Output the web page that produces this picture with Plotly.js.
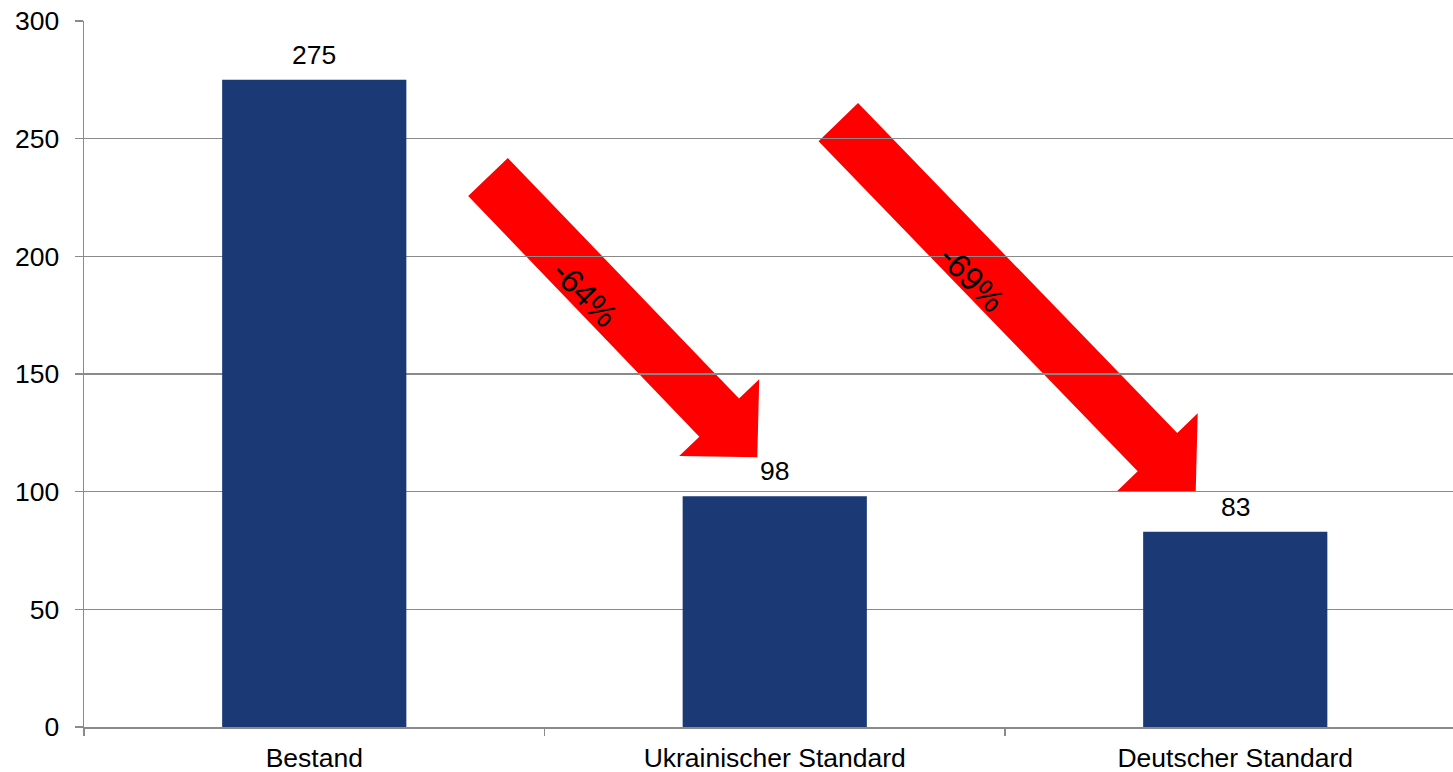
<!DOCTYPE html>
<html>
<head>
<meta charset="utf-8">
<script src="https://cdn.plot.ly/plotly-3.0.1.min.js"></script>
<style>
  html, body { margin: 0; padding: 0; background: #ffffff; }
  #chart { width: 1453px; height: 772px; }
</style>
</head>
<body>
<div id="chart"></div>
<script>
// ---- data ----
const categories = ["Bestand", "Ukrainischer Standard", "Deutscher Standard"];
const values = [275, 98, 83];
const changeLabels = ["-64%", "-69%"];
const yTickVals = [0, 50, 100, 150, 200, 250, 300];

// ---- layout constants ----
const W = 1453, H = 772;
const M = { l: 84, r: 0, t: 21, b: 45 };
const plotW = W - M.l - M.r;
const plotH = H - M.t - M.b;
const catWidthPx = 460.5;
const xMax = plotW / catWidthPx - 0.5;

const FONT = "Arial, 'Liberation Sans', sans-serif";
const FS = 26.5;
const GRAY = "#8a8a8a";

// pixel -> paper helpers for decorative block arrows
function toPaper(px, py) {
  return [(px - M.l) / plotW, (M.t + plotH - py) / plotH];
}
function blockArrowPath(tail, tip, shaftW, headW, headL) {
  const dx = tip[0] - tail[0], dy = tip[1] - tail[1];
  const len = Math.hypot(dx, dy);
  const ux = dx / len, uy = dy / len;
  const nx = -uy, ny = ux;
  const bx = tip[0] - ux * headL, by = tip[1] - uy * headL;
  const pts = [
    [tail[0] + nx * shaftW / 2, tail[1] + ny * shaftW / 2],
    [bx + nx * shaftW / 2, by + ny * shaftW / 2],
    [bx + nx * headW / 2, by + ny * headW / 2],
    [tip[0], tip[1]],
    [bx - nx * headW / 2, by - ny * headW / 2],
    [bx - nx * shaftW / 2, by - ny * shaftW / 2],
    [tail[0] - nx * shaftW / 2, tail[1] - ny * shaftW / 2]
  ].map(p => toPaper(p[0], p[1]));
  return "M " + pts.map(p => p[0].toFixed(5) + "," + p[1].toFixed(5)).join(" L ") + " Z";
}

const arrows = [
  { tail: [488, 177], tip: [757.3, 457.3], sw: 55, hw: 111, hl: 55, label: [585, 293] },
  { tail: [838.3, 122.2], tip: [1195.7, 491.7], sw: 55, hw: 112, hl: 55, label: [972, 278] }
];

const shapes = arrows.map(a => ({
  type: "path",
  xref: "paper", yref: "paper",
  path: blockArrowPath(a.tail, a.tip, a.sw, a.hw, a.hl),
  fillcolor: "#ff0000",
  line: { width: 0 },
  layer: "below"
}));

const annotations = [];
categories.forEach((c, i) => {
  annotations.push({
    x: c, y: values[i], xref: "x", yref: "y",
    text: String(values[i]),
    showarrow: false,
    xanchor: "center", yanchor: "bottom",
    yshift: 8,
    font: { family: FONT, size: FS, color: "#000000" }
  });
});
arrows.forEach((a, i) => {
  const p = toPaper(a.label[0], a.label[1]);
  annotations.push({
    x: p[0], y: p[1], xref: "paper", yref: "paper",
    text: changeLabels[i],
    showarrow: false,
    textangle: 46,
    xanchor: "center", yanchor: "middle",
    font: { family: FONT, size: 33, color: "#000000" }
  });
});

const trace = {
  type: "bar",
  x: categories,
  y: values,
  width: 0.4,
  marker: { color: "#1b3a75", line: { width: 0 } },
  hoverinfo: "skip"
};

const layout = {
  width: W, height: H,
  margin: M,
  paper_bgcolor: "#ffffff",
  plot_bgcolor: "rgba(0,0,0,0)",
  showlegend: false,
  font: { family: FONT, size: FS, color: "#000000" },
  xaxis: {
    type: "category",
    categoryorder: "array",
    categoryarray: categories,
    range: [-0.5, xMax],
    tickson: "boundaries",
    ticks: "outside",
    ticklen: 7,
    tickwidth: 1.5,
    tickcolor: GRAY,
    ticklabelstandoff: 7,
    showline: true,
    linecolor: GRAY,
    linewidth: 1.5,
    showgrid: false,
    zeroline: false,
    tickfont: { family: FONT, size: FS, color: "#000000" },
    fixedrange: true
  },
  yaxis: {
    range: [0, 300],
    tickmode: "array",
    tickvals: yTickVals,
    ticks: "outside",
    ticklen: 8,
    tickwidth: 1.5,
    tickcolor: GRAY,
    ticklabelstandoff: 10,
    showline: true,
    linecolor: GRAY,
    linewidth: 1.5,
    showgrid: true,
    gridcolor: GRAY,
    gridwidth: 1.3,
    zeroline: false,
    tickfont: { family: FONT, size: FS, color: "#000000" },
    fixedrange: true
  },
  shapes: shapes,
  annotations: annotations
};

Plotly.newPlot("chart", [trace], layout, { displayModeBar: false, staticPlot: true });
</script>
</body>
</html>
